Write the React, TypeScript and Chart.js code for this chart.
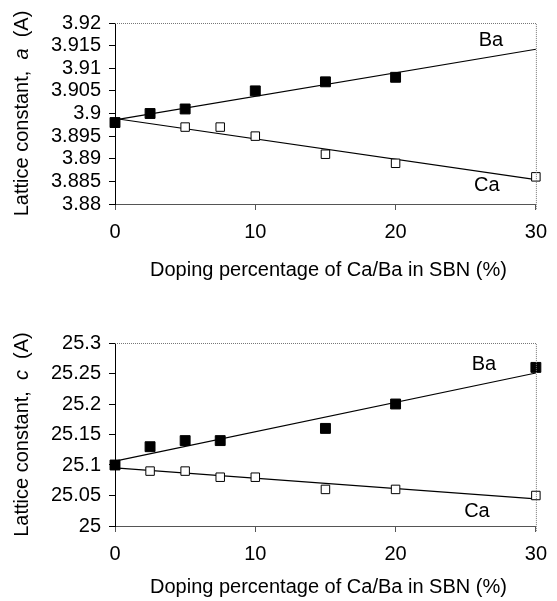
import React, { useEffect, useRef } from "react";
import { Chart, registerables } from "chart.js";

Chart.register(...registerables);

// ---- Data: lattice constant a ----
const dopingBaA = [0, 2.5, 5, 10, 15, 20];
const latticeBaA = [3.898, 3.9, 3.901, 3.905, 3.907, 3.908];
const dopingCaA = [0, 5, 7.5, 10, 15, 20, 30];
const latticeCaA = [3.898, 3.897, 3.897, 3.895, 3.891, 3.889, 3.886];
const fitX = [0, 30];
const fitBaA = [3.8986, 3.9142];
const fitCaA = [3.8989, 3.8854];

// ---- Data: lattice constant c ----
const dopingBaC = [0, 2.5, 5, 7.5, 15, 20, 30];
const latticeBaC = [25.1, 25.13, 25.14, 25.14, 25.16, 25.2, 25.26];
const dopingCaC = [0, 2.5, 5, 7.5, 10, 15, 20, 30];
const latticeCaC = [25.1, 25.09, 25.09, 25.08, 25.08, 25.06, 25.06, 25.05];
const fitBaC = [25.1064, 25.2508];
const fitCaC = [25.0953, 25.0444];

// ---- Ticks ----
const xTicks = [0, 10, 20, 30];
const yTicksA = [3.88, 3.885, 3.89, 3.895, 3.9, 3.905, 3.91, 3.915, 3.92];
const yTicksC = [25, 25.05, 25.1, 25.15, 25.2, 25.25, 25.3];

// ---- Text ----
const xTitle = "Doping percentage of Ca/Ba in SBN (%)";
const yTitleA = ["Lattice constant,  ", "a", "  (A)"];
const yTitleC = ["Lattice constant,  ", "c", "  (A)"];
const seriesNames = ["Ba", "Ca"];
// label anchor positions (data coords) for the series names
const labelPosA = [
  [26.8, 3.9162],
  [26.5, 3.8842],
];
const labelPosC = [
  [26.3, 25.264],
  [25.8, 25.023],
];

const FONT = "'Liberation Sans', Arial, sans-serif";

type PanelProps = {
  height: number;
  padTop: number;
  xAxisHeight: number;
  baX: number[];
  baY: number[];
  caX: number[];
  caY: number[];
  fitBa: number[];
  fitCa: number[];
  yMin: number;
  yMax: number;
  yTicks: number[];
  decimals: number;
  yTitle: string[];
  labelPos: number[][];
  titleOffset: number;
};

function Panel(p: PanelProps) {
  const ref = useRef<HTMLCanvasElement | null>(null);
  useEffect(() => {
    if (!ref.current) return;
    const toPts = (xs: number[], ys: number[]) => xs.map((x, i) => ({ x, y: ys[i] }));

    const decor = {
      id: "decor",
      afterDraw(chart: any) {
        const { ctx, chartArea } = chart;
        const { left, right, top, bottom } = chartArea;
        ctx.save();
        // dotted top and right frame
        ctx.strokeStyle = "#777";
        ctx.lineWidth = 1;
        ctx.setLineDash([1, 1]);
        ctx.beginPath();
        ctx.moveTo(left, top + 0.5);
        ctx.lineTo(right + 0.5, top + 0.5);
        ctx.lineTo(right + 0.5, bottom + 6);
        ctx.stroke();
        ctx.setLineDash([]);

        // series labels
        ctx.fillStyle = "#000";
        ctx.font = `20px ${FONT}`;
        ctx.textAlign = "center";
        ctx.textBaseline = "middle";
        const xs = chart.scales.x;
        const ys = chart.scales.y;
        seriesNames.forEach((n, i) => {
          ctx.fillText(n, xs.getPixelForValue(p.labelPos[i][0]), ys.getPixelForValue(p.labelPos[i][1]));
        });

        // x title
        ctx.font = `20px ${FONT}`;
        ctx.fillText(xTitle, (left + right) / 2 + 3, bottom + p.titleOffset);

        // y title with italic letter
        ctx.translate(22, (top + bottom) / 2);
        ctx.rotate(-Math.PI / 2);
        ctx.textAlign = "left";
        const fonts = [`20px ${FONT}`, `italic 20px ${FONT}`, `20px ${FONT}`];
        const widths = p.yTitle.map((t, i) => {
          ctx.font = fonts[i];
          return ctx.measureText(t).width;
        });
        let xPos = -widths.reduce((a, b) => a + b, 0) / 2;
        p.yTitle.forEach((t, i) => {
          ctx.font = fonts[i];
          ctx.fillText(t, xPos, 0);
          xPos += widths[i];
        });
        ctx.restore();
      },
    };

    const chart = new Chart(ref.current, {
      type: "scatter",
      data: {
        datasets: [
          {
            label: "Ba",
            data: toPts(p.baX, p.baY),
            pointStyle: "rect",
            pointRadius: 7,
            backgroundColor: "#000",
            borderColor: "#000",
            borderWidth: 1,
            clip: false,
          },
          {
            label: "Ca",
            data: toPts(p.caX, p.caY),
            pointStyle: "rect",
            pointRadius: 6,
            backgroundColor: "#fff",
            borderColor: "#000",
            borderWidth: 1,
            clip: false,
          },
          {
            label: "Ba fit",
            data: toPts(fitX, p.fitBa),
            showLine: true,
            pointRadius: 0,
            borderColor: "#000",
            borderWidth: 1.2,
            clip: false,
          },
          {
            label: "Ca fit",
            data: toPts(fitX, p.fitCa),
            showLine: true,
            pointRadius: 0,
            borderColor: "#000",
            borderWidth: 1.2,
            clip: false,
          },
        ],
      } as any,
      options: {
        animation: false,
        responsive: false,
        maintainAspectRatio: false,
        layout: { padding: { top: p.padTop, right: 13, left: 0, bottom: 0 } },
        plugins: { legend: { display: false }, tooltip: { enabled: false } },
        scales: {
          x: {
            type: "linear",
            min: 0,
            max: 30,
            afterBuildTicks: (s: any) => {
              s.ticks = xTicks.map((v) => ({ value: v }));
            },
            afterFit: (s: any) => {
              s.height = p.xAxisHeight;
            },
            ticks: {
              color: "#000",
              padding: 10,
              maxRotation: 0,
              autoSkip: false,
              font: { family: FONT, size: 20 },
            },
            grid: { drawOnChartArea: false, drawTicks: true, tickLength: 6, color: "#555" },
            border: { display: true, color: "#555", width: 1 },
          },
          y: {
            type: "linear",
            min: p.yMin,
            max: p.yMax,
            afterBuildTicks: (s: any) => {
              s.ticks = p.yTicks.map((v) => ({ value: v }));
            },
            afterFit: (s: any) => {
              s.width = 115;
            },
            ticks: {
              color: "#000",
              padding: 8,
              autoSkip: false,
              font: { family: FONT, size: 20 },
              callback: (v: any) => String(Number(Number(v).toFixed(p.decimals))),
            },
            grid: { drawOnChartArea: false, drawTicks: true, tickLength: 6, color: "#000" },
            border: { display: true, color: "#000", width: 1 },
          },
        },
      } as any,
      plugins: [decor],
    });
    return () => chart.destroy();
  }, []);
  return <canvas ref={ref} width={557} height={p.height} style={{ display: "block", width: 557, height: p.height }} />;
}

export default function App() {
  return (
    <div style={{ position: "absolute", left: 0, top: 0, width: 557, height: 601, background: "#fff" }}>
      <Panel
        height={300}
        padTop={23}
        xAxisHeight={96}
        baX={dopingBaA}
        baY={latticeBaA}
        caX={dopingCaA}
        caY={latticeCaA}
        fitBa={fitBaA}
        fitCa={fitCaA}
        yMin={3.88}
        yMax={3.92}
        yTicks={yTicksA}
        decimals={3}
        yTitle={yTitleA}
        labelPos={labelPosA}
        titleOffset={66}
      />
      <Panel
        height={301}
        padTop={43}
        xAxisHeight={75}
        baX={dopingBaC}
        baY={latticeBaC}
        caX={dopingCaC}
        caY={latticeCaC}
        fitBa={fitBaC}
        fitCa={fitCaC}
        yMin={25}
        yMax={25.3}
        yTicks={yTicksC}
        decimals={2}
        yTitle={yTitleC}
        labelPos={labelPosC}
        titleOffset={61}
      />
    </div>
  );
}
